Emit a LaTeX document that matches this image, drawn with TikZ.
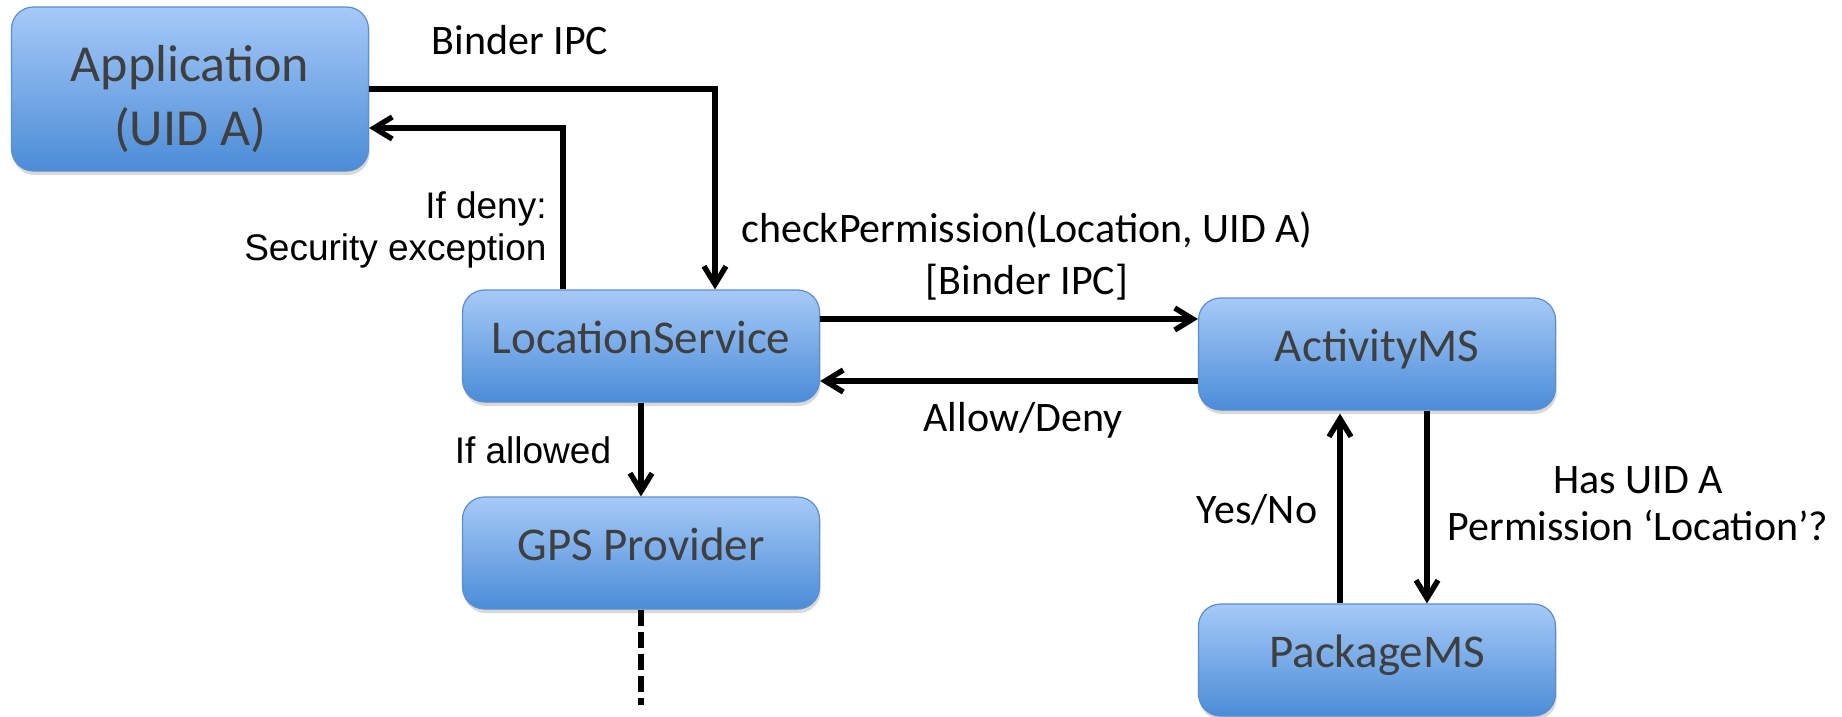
\documentclass[tikz,border=0pt]{standalone}
\usepackage{fontspec}
\setmainfont{Carlito}
\newfontfamily\arialfont{Liberation Sans}
\usetikzlibrary{arrows.meta,shadows,positioning}

\definecolor{boxtop}{HTML}{A6CAF8}
\definecolor{boxbottom}{HTML}{4B8CD7}
\definecolor{boxline}{HTML}{5A8ED0}
\definecolor{boxtext}{HTML}{3F3F3F}

\tikzset{
  srv/.style={rectangle, rounded corners=11pt, draw=boxline, line width=0.6pt,
    top color=boxtop, bottom color=boxbottom,
    drop shadow={opacity=0.3, shadow xshift=0.6pt, shadow yshift=-2pt},
    text=boxtext, font=\fontsize{23.5}{28}\selectfont,
    minimum width=178.5pt, minimum height=56pt, inner sep=0pt},
  oneline/.style={srv, text height=10.6pt, text depth=3.5pt},
  lbl/.style={font=\fontsize{21}{25.5}\selectfont, inner sep=0pt, align=center},
  arlbl/.style={font=\arialfont\fontsize{18.5}{21}\selectfont, inner sep=0pt},
  flow/.style={->, line width=2.7pt},
}

\begin{document}
\begin{tikzpicture}[x=0.5pt,y=-0.5pt,>={Straight Barb[length=9pt,width=11pt]},
    node distance=103.5pt]
  \useasboundingbox (0,0) rectangle (1842,717);

  \node[srv,minimum height=82pt,align=center,font=\fontsize{26}{32}\selectfont]
        (app) at (190,89) {\rule{0pt}{28pt}Application\\(UID A)};
  \node[oneline] (loc) at (641,346)  {LocationService};
  \node[oneline] (gps) [below of=loc] {GPS Provider};
  \node[oneline] (act) at (1377,354) {ActivityMS};
  \node[oneline] (pkg) [below of=act, node distance=153pt] {PackageMS};
  \coordinate (gpsend) at (641,705);

  \node[lbl] (binderlbl) at (520,40) {Binder IPC};
  \node[arlbl,align=right,anchor=east] (denylbl) at (547,230) {If deny:\\Security exception};
  \node[lbl] (checklbl) at (1027,256) {checkPermission(Location, UID A)\\{}[Binder IPC]};
  \node[lbl] (allowlbl) at (1023,420) {Allow/Deny};
  \node[arlbl] (allowedlbl) at (533,450) {If allowed};
  \node[lbl] (yesnolbl) at (1257,510) {Yes/No};
  \node[lbl,font=\fontsize{21}{23.5}\selectfont] (hasuidlbl) at (1638,504)
        {Has UID A\\Permission ‘Location’?};

  \draw[flow] (app.east) -| ([xshift=37pt]loc.north);
  \draw[flow] ([xshift=-39pt]loc.north) |- ([yshift=-19.5pt]app.east);
  \draw[flow] ([yshift=13.5pt]loc.east) -- ([yshift=13.5pt]loc.east -| act.west);
  \draw[flow] ([yshift=-13.5pt]act.west) -- ([yshift=-13.5pt]act.west -| loc.east);
  \draw[flow] (loc) -- (gps);
  \draw[line width=3pt, dash pattern=on 8pt off 3pt] (gps) -- (gpsend);
  \draw[flow,shorten >=1.5pt] ([xshift=-18.5pt]pkg.north) -- ([xshift=-18.5pt]pkg.north |- act.south);
  \draw[flow] ([xshift=25pt]act.south) -- ([xshift=25pt]act.south |- pkg.north);
\end{tikzpicture}
\end{document}
